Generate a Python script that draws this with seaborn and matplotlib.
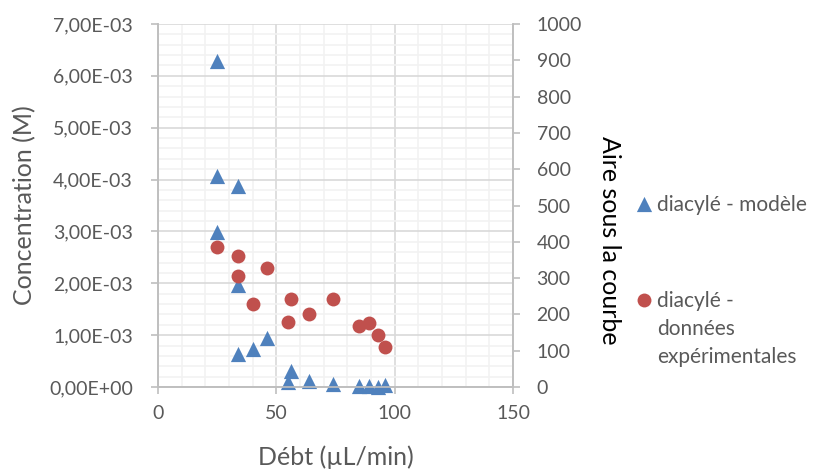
import numpy as np
import pandas as pd
import seaborn as sns
import matplotlib
matplotlib.use("Agg")
import matplotlib.pyplot as plt
from matplotlib.ticker import MultipleLocator, FuncFormatter

# model (left axis, mol/L)
debit_modele = [25, 25, 25, 34, 34, 34, 40, 46, 55, 56, 64, 74, 85, 89, 93, 96]
conc_modele = [6.28e-3, 4.07e-3, 2.99e-3, 3.88e-3, 1.97e-3, 0.64e-3, 0.73e-3, 0.95e-3,
               0.09e-3, 0.31e-3, 0.11e-3, 0.06e-3, 0.01e-3, 0.02e-3, 0.0, 0.03e-3]

# experimental (right axis, area under curve)
debit_exp = [25, 34, 34, 40, 46, 55, 56, 64, 74, 85, 89, 93, 96]
aire_exp = [385, 361, 306, 228, 329, 180, 242, 201, 243, 169, 175, 143, 110]

df_mod = pd.DataFrame({"debit": debit_modele, "conc": conc_modele})
df_exp = pd.DataFrame({"debit": debit_exp, "aire": aire_exp})

sns.set_style("white")
plt.rcParams["font.family"] = ["Lato", "DejaVu Sans"]

grey = "#595959"
axis_col = "#bfbfbf"
blue = "#4f81bd"
red = "#c0504d"

fig = plt.figure(figsize=(8.18, 4.70), dpi=100)
ax = fig.add_axes([158 / 818, 1 - 387 / 470, 355 / 818, 363 / 470])
ax2 = ax.twinx()

sns.scatterplot(data=df_mod, x="debit", y="conc", ax=ax, marker="^", s=120,
                color=blue, linewidth=0, label="diacylé - modèle", legend=False,
                zorder=3, clip_on=False)
sns.scatterplot(data=df_exp, x="debit", y="aire", ax=ax2, marker="o", s=100,
                color=red, linewidth=0, label="diacylé -\ndonnées\nexpérimentales", legend=False,
                zorder=3, clip_on=False)

ax.set_xlim(0, 150)
ax.set_ylim(0, 7e-3)
ax2.set_ylim(0, 1000)

ax.xaxis.set_major_locator(MultipleLocator(50))
ax.xaxis.set_minor_locator(MultipleLocator(10))
ax.yaxis.set_major_locator(MultipleLocator(1e-3))
ax.yaxis.set_minor_locator(MultipleLocator(0.2e-3))
ax2.yaxis.set_major_locator(MultipleLocator(100))
ax.yaxis.set_major_formatter(FuncFormatter(lambda v, p: f"{v:.2E}".replace(".", ",")))

ax.grid(True, which="major", color="#d9d9d9", lw=1.2, zorder=0)
ax.grid(True, which="minor", color="#f2f2f2", lw=1.2, zorder=0)
ax.set_axisbelow(True)
ax2.grid(False)

for a in (ax, ax2):
    a.spines["top"].set_visible(False)
    for s in ("left", "right", "bottom"):
        a.spines[s].set_color(axis_col)
        a.spines[s].set_linewidth(1.2)

ax.tick_params(axis="both", which="major", direction="out", length=5, width=1.2,
               color=axis_col, labelcolor=grey, labelsize=14)
ax.tick_params(axis="y", which="major", pad=13, left=True)
ax.tick_params(axis="x", which="major", pad=8, bottom=True)
ax.tick_params(which="minor", length=0)
ax2.tick_params(axis="y", which="major", direction="out", length=5, width=1.2,
                color=axis_col, labelcolor=grey, labelsize=14, pad=12, right=True)

ax.set_xlabel("Débt (µL/min)", fontsize=18, color=grey, va="center")
ax.xaxis.set_label_coords(0.5, -(457 - 387) / 363)
ax.set_ylabel("Concentration (M)", fontsize=18, color=grey, va="center")
ax.yaxis.set_label_coords(-0.376, 0.5)
ax2.set_ylabel("Aire sous la courbe", fontsize=18, color="black", rotation=270, va="center")
ax2.yaxis.set_label_coords(1.273, 1 - (240 - 24) / 363)

h1, l1 = ax.get_legend_handles_labels()
h2, l2 = ax2.get_legend_handles_labels()
leg = fig.legend(h1 + h2, l1 + l2, loc="upper left", bbox_to_anchor=(636 / 818, 1 - 195 / 470),
                 frameon=False, fontsize=15, handlelength=0.75, handletextpad=0.25,
                 labelspacing=3.65, borderpad=0, borderaxespad=0)
for t in leg.get_texts():
    t.set_color(grey)
    t.set_linespacing(1.5)
# put the marker next to the first line of the wrapped label
for col in leg._legend_handle_box.get_children():
    for row in col.get_children():
        row.align = "top"

fig.savefig("out.png", dpi=100)
